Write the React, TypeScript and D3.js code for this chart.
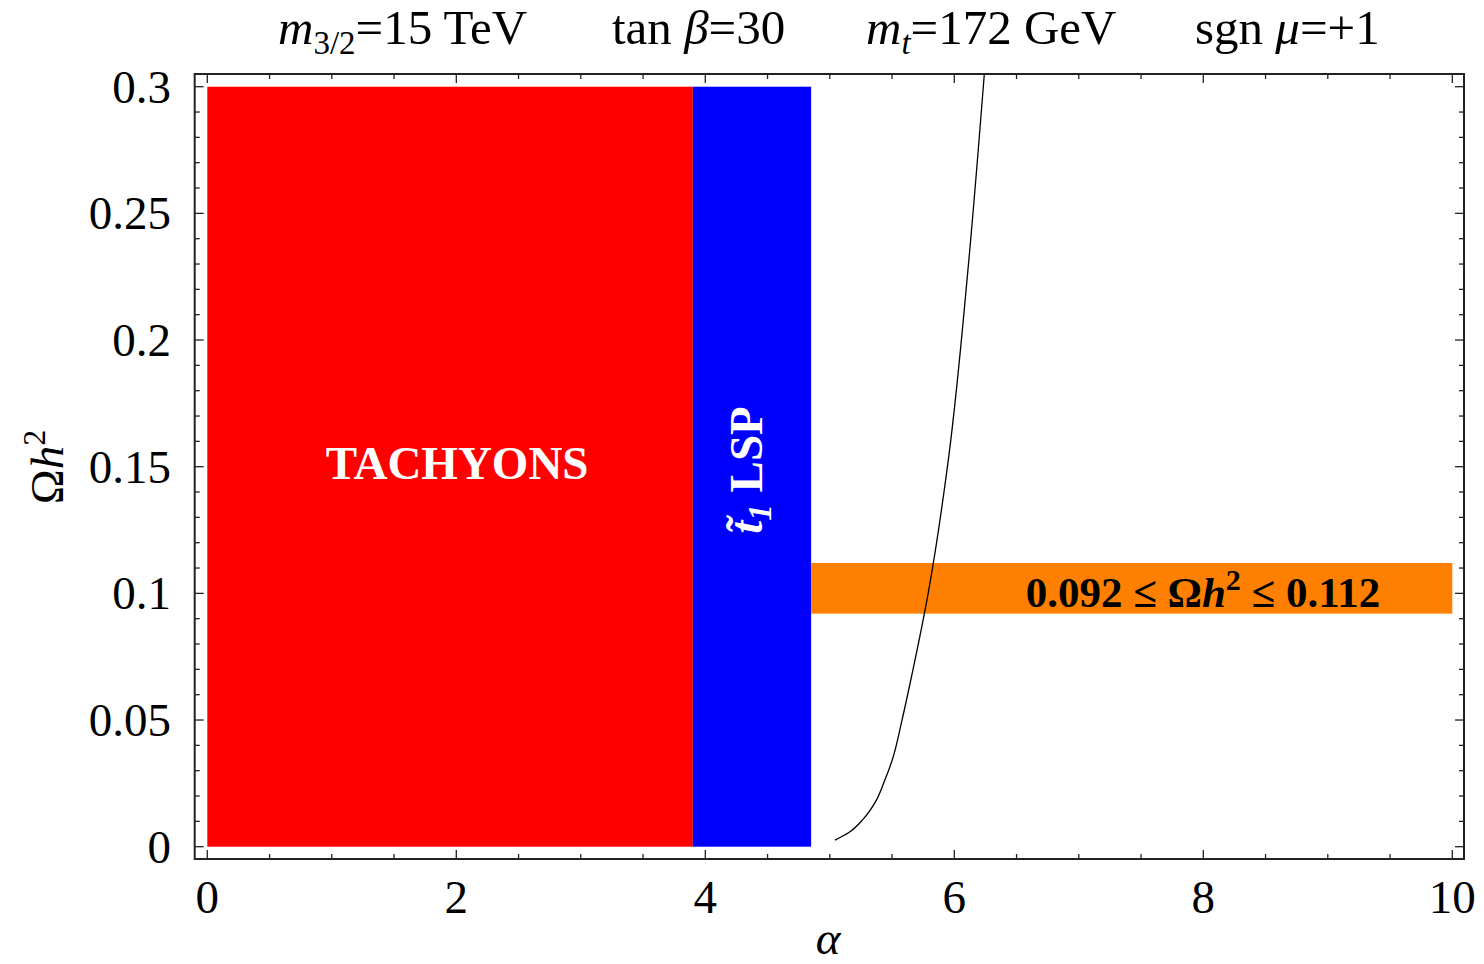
import React from "react";
import * as d3 from "d3";

// Regions in (alpha, Omega h^2) space
const regionNames = ["tachyons", "stopLSP", "wmap"];
const regionX0 = [0, 3.9, 4.85];
const regionX1 = [3.9, 4.85, 10];
const regionY0 = [0, 0, 0.092];
const regionY1 = [0.3, 0.3, 0.112];
const regionColors = ["#ff0000", "#0000ff", "#ff8000"];

// Relic density curve (alpha, Omega h^2)
const curveAlpha = [5.042, 5.15, 5.27, 5.37, 5.44, 5.5, 5.58, 5.66, 5.79, 5.952, 6.112, 6.241];
const curveOmega = [0.0026, 0.0055, 0.011, 0.018, 0.026, 0.034, 0.05, 0.068, 0.1, 0.1527, 0.229, 0.305];

const xTickLabels = [0, 2, 4, 6, 8, 10];
const yTickLabels = [0, 0.05, 0.1, 0.15, 0.2, 0.25, 0.3];

const W = 1484;
const H = 964;
const FONT = "'Liberation Serif', 'DejaVu Serif', serif";

export default function App() {
  const x = d3.scaleLinear().domain([0, 10]).range([207.3, 1452.3]);
  const y = d3.scaleLinear().domain([0, 0.3]).range([846.7, 86.7]);
  const frameL = 194.7, frameR = 1464, frameT = 74, frameB = 859;

  const xMinor = d3.range(0, 10.001, 0.5);
  const yMinor = d3.range(0, 0.3001, 0.01);
  const isMajorX = (v: number) => Math.abs(v / 2 - Math.round(v / 2)) < 1e-6;
  const isMajorY = (v: number) => Math.abs(v / 0.05 - Math.round(v / 0.05)) < 1e-6;

  const line = d3
    .line<number>()
    .x((_, i) => x(curveAlpha[i]))
    .y((_, i) => y(curveOmega[i]))
    .curve(d3.curveMonotoneY);

  const fmtY = (v: number) => (v === 0 ? "0" : String(+v.toFixed(2)));
  const fs = 47;
  const tfs = 49;

  return (
    <svg width={W} height={H} style={{ position: "absolute", left: 0, top: 0, background: "#fff" }}>
      <defs>
        <clipPath id="plotclip">
          <rect x={frameL} y={frameT} width={frameR - frameL} height={frameB - frameT} />
        </clipPath>
      </defs>
      <rect x={0} y={0} width={W} height={H} fill="#fff" />
      {/* regions */}
      {regionNames.map((n, i) => (
        <rect
          key={n}
          x={x(regionX0[i])}
          y={y(regionY1[i])}
          width={x(regionX1[i]) - x(regionX0[i])}
          height={y(regionY0[i]) - y(regionY1[i])}
          fill={regionColors[i]}
        />
      ))}
      {/* curve */}
      <path
        d={line(curveAlpha) || ""}
        fill="none"
        stroke="#000"
        strokeWidth={1.3}
        clipPath="url(#plotclip)"
      />
      {/* frame */}
      <rect
        x={frameL}
        y={frameT}
        width={frameR - frameL}
        height={frameB - frameT}
        fill="none"
        stroke="#222"
        strokeWidth={2}
      />
      {/* x ticks */}
      {xMinor.map((v) => {
        const len = isMajorX(v) ? 9 : 5;
        return (
          <g key={"xt" + v} stroke="#222" strokeWidth={1.3}>
            <line x1={x(v)} x2={x(v)} y1={frameB} y2={frameB - len} />
            <line x1={x(v)} x2={x(v)} y1={frameT} y2={frameT + len} />
          </g>
        );
      })}
      {/* y ticks */}
      {yMinor.map((v) => {
        const len = isMajorY(v) ? 9 : 5;
        return (
          <g key={"yt" + v} stroke="#222" strokeWidth={1.3}>
            <line x1={frameL} x2={frameL + len} y1={y(v)} y2={y(v)} />
            <line x1={frameR} x2={frameR - len} y1={y(v)} y2={y(v)} />
          </g>
        );
      })}
      {/* tick labels */}
      {xTickLabels.map((v) => (
        <text key={"xl" + v} x={x(v)} y={913} textAnchor="middle" fontFamily={FONT} fontSize={fs} fill="#000">
          {v}
        </text>
      ))}
      {yTickLabels.map((v) => (
        <text key={"yl" + v} x={171} y={y(v) + 16} textAnchor="end" fontFamily={FONT} fontSize={fs} fill="#000">
          {fmtY(v)}
        </text>
      ))}
      {/* axis labels */}
      <text x={828} y={954} textAnchor="middle" fontFamily={FONT} fontSize={fs} fontStyle="italic">
        α
      </text>
      <text
        transform="translate(63,467) rotate(-90)"
        textAnchor="middle"
        fontFamily={FONT}
        fontSize={fs}
      >
        Ω<tspan fontStyle="italic">h</tspan>
        <tspan dy={-18} fontSize={32}>2</tspan>
      </text>
      {/* title */}
      <g fontFamily={FONT} fontSize={tfs} fill="#000">
        <text x={278} y={44}>
          <tspan fontStyle="italic">m</tspan>
          <tspan dy={10} fontSize={33}>3/2</tspan>
          <tspan dy={-10}>=15 TeV</tspan>
        </text>
        <text x={612} y={44}>
          tan <tspan fontStyle="italic">β</tspan>=30
        </text>
        <text x={866} y={44}>
          <tspan fontStyle="italic">m</tspan>
          <tspan dy={10} fontSize={33} fontStyle="italic">t</tspan>
          <tspan dy={-10}>=172 GeV</tspan>
        </text>
        <text x={1195} y={44}>
          sgn <tspan fontStyle="italic">μ</tspan>=+1
        </text>
      </g>
      {/* region labels */}
      <text
        x={(x(regionX0[0]) + x(regionX1[0])) / 2 + 7}
        y={479}
        textAnchor="middle"
        fontFamily={FONT}
        fontSize={47}
        fontWeight="bold"
        fill="#fff"
      >
        TACHYONS
      </text>
      <text
        transform={`translate(${(x(regionX0[1]) + x(regionX1[1])) / 2 + 10},470) rotate(-90)`}
        textAnchor="middle"
        fontFamily={FONT}
        fontSize={47}
        fontWeight="bold"
        fill="#fff"
      >
        <tspan fontStyle="italic">t̃</tspan>
        <tspan dy={9} fontSize={33} fontStyle="italic">1</tspan>
        <tspan dy={-9}> LSP</tspan>
      </text>
      <text
        x={1203}
        y={607}
        textAnchor="middle"
        fontFamily={FONT}
        fontSize={43}
        fontWeight="bold"
        fill="#000"
      >
        0.092 ≤ Ω<tspan fontStyle="italic">h</tspan>
        <tspan dy={-17} fontSize={30}>2</tspan>
        <tspan dy={17}> ≤ 0.112</tspan>
      </text>
    </svg>
  );
}
